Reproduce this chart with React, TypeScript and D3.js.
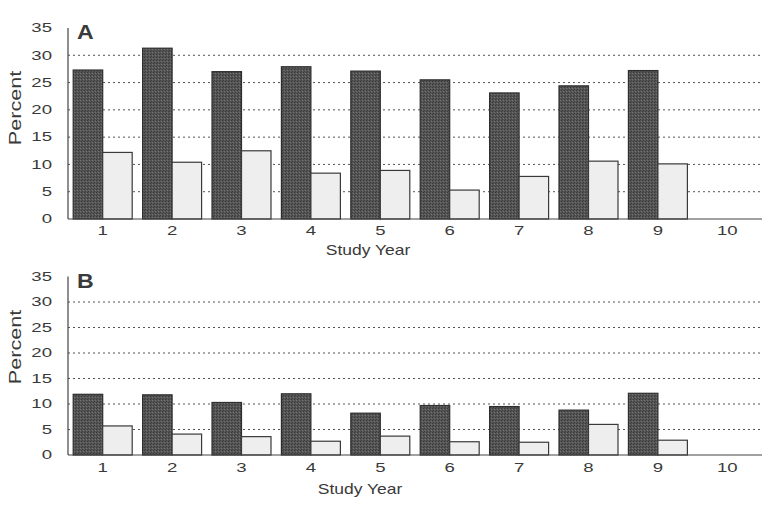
import React from 'react';
import * as d3 from 'd3';

// Study years on the x axis (10 has no bars)
const YEARS = ['1', '2', '3', '4', '5', '6', '7', '8', '9', '10'];
const Y_TICKS = [0, 5, 10, 15, 20, 25, 30, 35];

// Panel A
const A_DARK = [27.3, 31.3, 27.0, 27.9, 27.1, 25.5, 23.1, 24.4, 27.2];
const A_LIGHT = [12.2, 10.4, 12.5, 8.4, 8.9, 5.3, 7.8, 10.6, 10.1];

// Panel B
const B_DARK = [11.9, 11.8, 10.3, 12.0, 8.2, 9.7, 9.5, 8.8, 12.1];
const B_LIGHT = [5.7, 4.1, 3.6, 2.7, 3.7, 2.6, 2.5, 6.0, 2.9];

const FONT = '"Liberation Sans", "DejaVu Sans", sans-serif';
const TEXT = '#3a3a3a';

// wide, short lettering like the scanned figure
function WideText({ x, y, anchor, size, sx, children, weight }: {
  x: number; y: number; anchor: string; size: number; sx: number; children: React.ReactNode; weight?: string;
}) {
  return (
    <g transform={`translate(${x},${y}) scale(${sx},1)`}>
      <text dy="0.36em" textAnchor={anchor} fontFamily={FONT} fontSize={size}
        fontWeight={weight} fill={TEXT}>{children}</text>
    </g>
  );
}

interface PanelProps {
  letter: string;
  dark: number[];
  light: number[];
  top: number;      // y of the 35 line
  bottom: number;   // baseline
  tickY: number;
  titleY: number;
  titleX: number;
  percentY: number;
  letterY: number;
}

const X0 = 68;
const X1 = 762;

function Panel({ letter, dark, light, top, bottom, tickY, titleY, titleX, percentY, letterY }: PanelProps) {
  const x = d3.scaleBand<string>()
    .domain(YEARS)
    .range([X0, X1])
    .paddingInner(0.15)
    .paddingOuter(0.075);
  const y = d3.scaleLinear().domain([0, 35]).range([bottom, top]);
  const bw = x.bandwidth() / 2;

  return (
    <g>
      {/* dotted grid lines */}
      {Y_TICKS.filter((t) => t > 0 && t < 35).map((t) => (
        <line key={t} x1={X0} x2={X1} y1={y(t)} y2={y(t)}
          stroke="#555" strokeWidth={1} strokeDasharray="2,3" />
      ))}

      {/* bars */}
      {dark.map((v, i) => (
        <rect key={'d' + i} x={x(YEARS[i])!} y={y(v)} width={bw} height={bottom - y(v)}
          fill="url(#stipple)" stroke="#2e2e2e" strokeWidth={1.2} />
      ))}
      {light.map((v, i) => (
        <rect key={'l' + i} x={x(YEARS[i])! + bw} y={y(v)} width={bw} height={bottom - y(v)}
          fill="#eeeeee" stroke="#3a3a3a" strokeWidth={1.2} />
      ))}

      {/* axes */}
      <line x1={X0} x2={X0} y1={top} y2={bottom} stroke="#444" strokeWidth={1.2} />
      <line x1={X0} x2={X1} y1={bottom} y2={bottom} stroke="#444" strokeWidth={1.2} />

      {Y_TICKS.map((t) => (
        <WideText key={t} x={52} y={y(t)} anchor="end" size={12} sx={1.55}>{t}</WideText>
      ))}
      {YEARS.map((yr) => (
        <WideText key={yr} x={x(yr)! + x.bandwidth() / 2} y={tickY} anchor="middle" size={12} sx={1.55}>{yr}</WideText>
      ))}

      <WideText x={titleX} y={titleY} anchor="middle" size={14} sx={1.25}>Study Year</WideText>
      <g transform={`translate(15,${percentY}) rotate(-90) scale(1.35,1)`}>
        <text dy="0.36em" textAnchor="middle" fontFamily={FONT} fontSize={16} fill={TEXT}>Percent</text>
      </g>
      <WideText x={77} y={letterY} anchor="start" size={21} sx={1.1} weight="bold">{letter}</WideText>
    </g>
  );
}

export default function App() {
  return (
    <svg width={771} height={522} style={{ position: 'absolute', left: 0, top: 0, background: '#fff' }}>
      <defs>
        <pattern id="stipple" width={3} height={3} patternUnits="userSpaceOnUse">
          <rect width={3} height={3} fill="#555" />
          <rect width={1} height={1} fill="#383838" />
          <rect x={2} y={1} width={1} height={1} fill="#727272" />
          <rect x={1} y={2} width={1} height={1} fill="#404040" />
        </pattern>
      </defs>
      <rect width={771} height={522} fill="#fff" />
      <Panel letter="A" dark={A_DARK} light={A_LIGHT} top={28} bottom={219}
        tickY={231} titleY={250} titleX={368} percentY={108} letterY={31.5} />
      <Panel letter="B" dark={B_DARK} light={B_LIGHT} top={276.5} bottom={455}
        tickY={468} titleY={489} titleX={360} percentY={347} letterY={280} />
    </svg>
  );
}
